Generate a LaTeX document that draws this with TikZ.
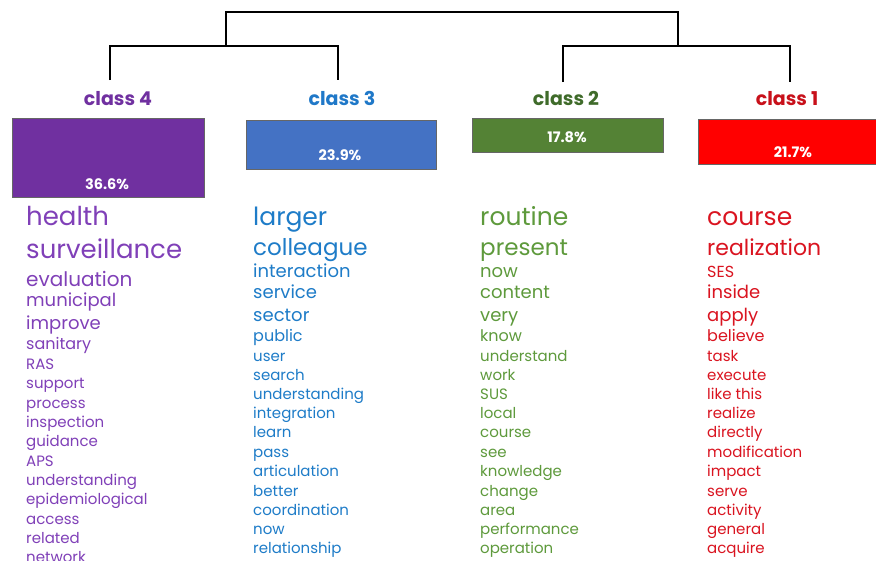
\documentclass[tikz,border=0pt]{standalone}
\usepackage{fontspec}
\setmainfont{Poppins}
\definecolor{cpurple}{HTML}{7030A0}
\definecolor{cblue}{HTML}{4472C4}
\definecolor{cgreen}{HTML}{548235}
\definecolor{cred}{HTML}{FF0000}
\definecolor{tpurple}{HTML}{8040B8}
\definecolor{tblue}{HTML}{1E7CC8}
\definecolor{tgreen}{HTML}{5E9A3C}
\definecolor{tred}{HTML}{DA1420}
\definecolor{lpurple}{HTML}{7030A0}
\definecolor{lblue}{HTML}{1F78C8}
\definecolor{lgreen}{HTML}{3F6B2A}
\definecolor{lred}{HTML}{C8101A}
\tikzset{
  tree/.style={draw=black, line width=1.3pt},
  classlbl/.style={font=\bfseries\fontsize{19}{19}\selectfont, anchor=base, inner sep=0pt},
  pctbox/.style={draw=black!60, line width=0.6pt},
  pct/.style={font=\bfseries\fontsize{14.5}{14.5}\selectfont, text=white, anchor=base, inner sep=0pt},
  word/.style={anchor=base west, inner sep=0pt},
}
\begin{document}
\begin{tikzpicture}[x=1pt,y=-1pt]
\useasboundingbox (0,0) rectangle (876,560);
\fill[white] (0,0) rectangle (876,560);

% class labels
\node[classlbl, text=lpurple] (l4) at (118,105) {class 4};
\node[classlbl, text=lblue] (l3) at (342,105) {class 3};
\node[classlbl, text=lgreen] (l2) at (566,105) {class 2};
\node[classlbl, text=lred] (l1) at (787,105) {class 1};

% dendrogram
\coordinate (t4) at (110,80);
\coordinate (t3) at (338,80);
\coordinate (t2) at (563,82);
\coordinate (t1) at (790,82);
\coordinate (jL) at (226,46);
\coordinate (jR) at (678,46);
\draw[tree] (t4) |- (jL) -| (t3);
\draw[tree] (t2) |- (jR) -| (t1);
\draw[tree] (jL) -- (226,12) -| (jR);

% percentage boxes
\node[pctbox, fill=cpurple, minimum width=192pt, minimum height=79pt, anchor=north west] (b4) at (12,118) {};
\node[pctbox, fill=cblue, minimum width=190pt, minimum height=49pt, anchor=north west] (b3) at (246,120) {};
\node[pctbox, fill=cgreen, minimum width=191pt, minimum height=34pt, anchor=north west] (b2) at (472,118) {};
\node[pctbox, fill=cred, minimum width=190pt, minimum height=45pt, anchor=north west] (b1) at (698,119) {};
\node[pct] (p4) at (107,189) {36.6\%};
\node[pct] (p3) at (340,160) {23.9\%};
\node[pct] (p2) at (567,142) {17.8\%};
\node[pct] (p1) at (793,157) {21.7\%};

% class 4 words
\foreach \w/\s/\y [count=\i] in {health/26/225, surveillance/26/258, evaluation/20/286, municipal/18/306, improve/18/329, sanitary/16/349, RAS/15/369, support/15/388, process/15/408, inspection/15/427, guidance/15/446, APS/15/466, understanding/15/485, epidemiological/15/504, access/15/524, related/15/543, network/15/562}
  {\node[word, text=tpurple, font=\fontsize{\s}{\s}\selectfont] (c4w\i) at (26,\y) {\w};}

% class 3 words
\foreach \w/\s/\y [count=\i] in {larger/25/225, colleague/23/255, interaction/18/277, service/18/298, sector/18/321, public/16/341, user/15/361, search/15/380, understanding/15/399, integration/15/418, learn/15/437, pass/15/457, articulation/15/476, better/15/496, coordination/15/515, now/15/534, relationship/15/553}
  {\node[word, text=tblue, font=\fontsize{\s}{\s}\selectfont] (c3w\i) at (253,\y) {\w};}

% class 2 words
\foreach \w/\s/\y [count=\i] in {routine/25/225, present/23/255, now/18/277, content/18/298, very/18/321, know/16/341, understand/15/361, work/15/380, SUS/15/399, local/15/418, course/15/437, see/15/457, knowledge/15/476, change/15/496, area/15/515, performance/15/534, operation/15/553}
  {\node[word, text=tgreen, font=\fontsize{\s}{\s}\selectfont] (c2w\i) at (480,\y) {\w};}

% class 1 words
\foreach \w/\s/\y [count=\i] in {course/25/225, realization/22/255, SES/16/277, inside/18/298, apply/18/321, believe/16/341, task/15/361, execute/15/380, like this/15/399, realize/15/418, directly/15/437, modification/15/457, impact/15/476, serve/15/496, activity/15/515, general/15/534, acquire/15/553}
  {\node[word, text=tred, font=\fontsize{\s}{\s}\selectfont] (c1w\i) at (707,\y) {\w};}
\end{tikzpicture}
\end{document}
